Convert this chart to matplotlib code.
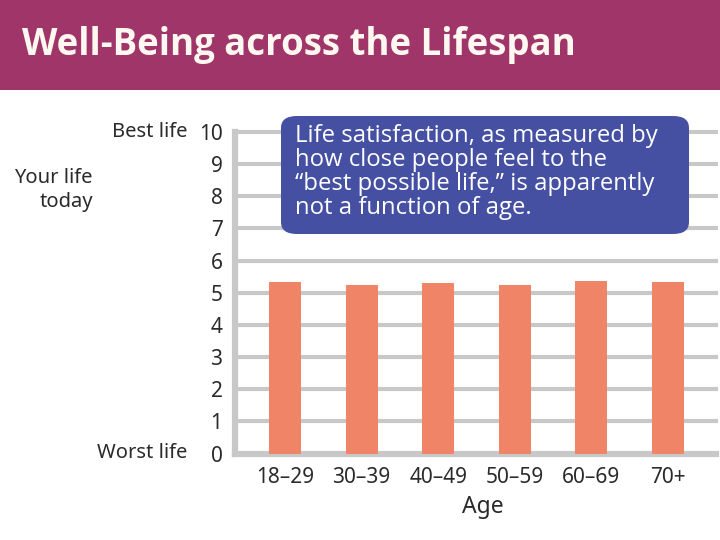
import matplotlib
matplotlib.use("Agg")
import matplotlib.pyplot as plt
from matplotlib.patches import Rectangle, FancyBboxPatch

categories = ["18–29", "30–39", "40–49", "50–59", "60–69", "70+"]
values = [5.34, 5.23, 5.31, 5.25, 5.38, 5.32]
yticks = [0, 1, 2, 3, 4, 5, 6, 7, 8, 9, 10]

W, H = 720, 540
fig = plt.figure(figsize=(7.2, 5.4), dpi=100)
fig.patch.set_facecolor("white")

# Title bar
fig.patches.append(Rectangle((0, 1 - 90 / H), 1, 90 / H, transform=fig.transFigure,
                             facecolor="#A0356A", edgecolor="none", zorder=0))
fig.text(22 / W, 1 - 45 / H, "Well-Being across the Lifespan", color="#FFF8F0",
         fontsize=26.4, fontweight="bold", family=["Open Sans", "DejaVu Sans"],
         ha="left", va="center")

XL = (-0.653, 5.627)
ax = fig.add_axes([235 / W, 1 - 453.5 / H, (716 - 235) / W, (453.5 - 132) / H])
ax.set_xlim(*XL)
ax.set_ylim(0, 10)
for s in ax.spines.values():
    s.set_visible(False)

grid_c = "#C8C8C8"
for t in yticks:
    ax.axhline(t, color=grid_c, lw=3.0 if t else 4.5, zorder=1, clip_on=False)
ax.axvline(XL[0], color=grid_c, lw=4.5, zorder=1, clip_on=False)

x = list(range(len(categories)))
ax.bar(x, values, width=0.42, color="#F08466", zorder=2)

ax.set_xticks(x)
ax.set_xticklabels(categories)
ax.set_yticks(yticks)
ax.set_yticklabels([str(t) for t in yticks])
ax.tick_params(length=0, labelsize=15, colors="#2A2A2A")
ax.tick_params(axis="y", pad=9)
ax.tick_params(axis="x", pad=10)
for lab in ax.get_xticklabels() + ax.get_yticklabels():
    lab.set_family(["Noto Sans", "DejaVu Sans"])
ax.set_xlabel("Age", fontsize=16.5, color="#2A2A2A", family=["Noto Sans", "DejaVu Sans"])
ax.xaxis.set_label_coords((483 - 235) / 481, -(507 - 453.5) / 321.5)
ax.xaxis.label.set_va("center")

tf = dict(family=["Noto Sans", "DejaVu Sans"], color="#2A2A2A", fontsize=14.5)
fig.text(187 / W, 1 - 132 / H, "Best life", ha="right", va="center", **tf)
fig.text(187 / W, 1 - 453 / H, "Worst life", ha="right", va="center", **tf)
fig.text(93 / W, 1 - 190 / H, "Your life\ntoday", ha="right", va="center",
         linespacing=1.25, **tf)

# Annotation box
bx0, by0, bx1, by1 = 281, 116, 689, 234
fig.patches.append(FancyBboxPatch((bx0 / W, 1 - by1 / H), (bx1 - bx0) / W, (by1 - by0) / H,
                                  boxstyle="round,pad=0,rounding_size=0.022",
                                  transform=fig.transFigure, facecolor="#4650A2",
                                  edgecolor="none", zorder=5))
fig.text(295 / W, 1 - 124 / H,
         "Life satisfaction, as measured by\nhow close people feel to the\n"
         "“best possible life,” is apparently\nnot a function of age.",
         ha="left", va="top", color="white", fontsize=17.2, linespacing=1.0,
         family=["Open Sans", "DejaVu Sans"], zorder=6)

fig.savefig("out.png", dpi=100, facecolor="white")
